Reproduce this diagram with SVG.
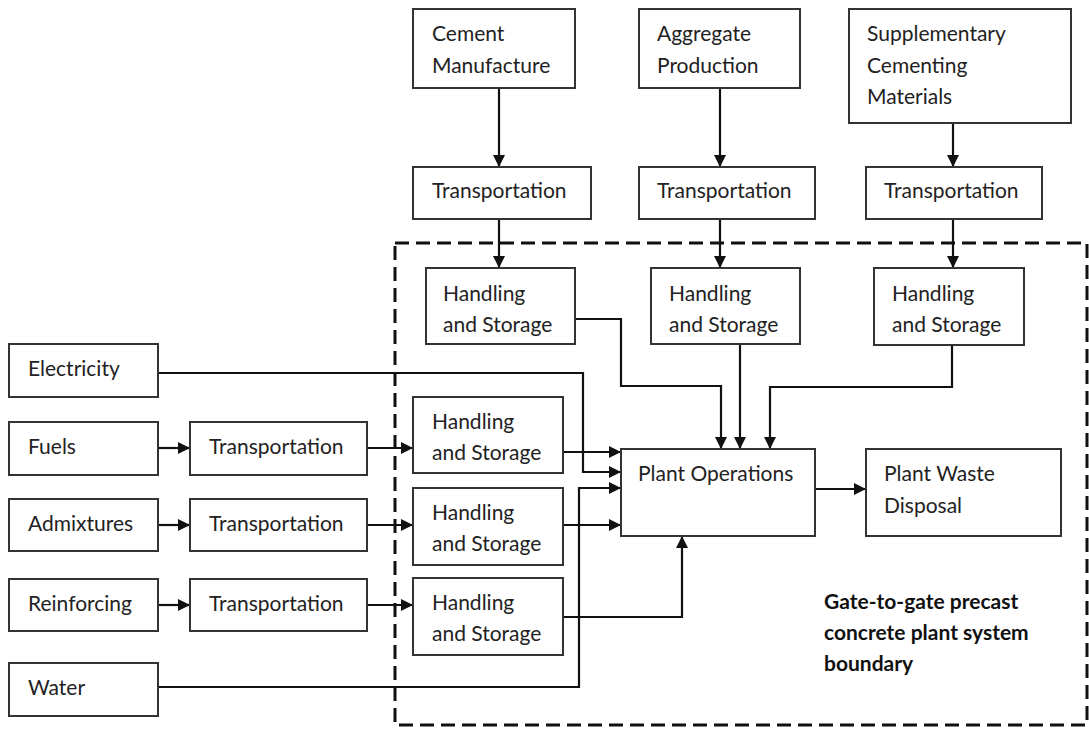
<svg xmlns="http://www.w3.org/2000/svg" width="1089" height="729" viewBox="0 0 1089 729">
<style>
.box{fill:#fff;stroke:#333;stroke-width:2}
.t{font-family:Lato,"Open Sans",sans-serif;font-size:21px;fill:#222}
.b{font-family:Lato,"Open Sans",sans-serif;font-size:21px;font-weight:bold;fill:#111}
.c{fill:none;stroke:#111;stroke-width:2.2}
.bd{fill:none;stroke:#111;stroke-width:3;stroke-dasharray:14 7}
</style>
<defs>
<marker id="ah" viewBox="0 0 10 10" refX="10" refY="5" markerWidth="12" markerHeight="12" markerUnits="userSpaceOnUse" orient="auto">
<path d="M0,0 L10,5 L0,10 Z" fill="#111"/>
</marker>
</defs>
<rect width="1089" height="729" fill="#fff"/>
<g id="boundary">
<path class="bd" d="M395,243 H1087 V725 H395 Z"/>
</g>
<g id="connectors">
<path class="c" d="M499,88 V167" marker-end="url(#ah)"/>
<path class="c" d="M720,88 V167" marker-end="url(#ah)"/>
<path class="c" d="M953,123 V167" marker-end="url(#ah)"/>
<path class="c" d="M499,219 V268" marker-end="url(#ah)"/>
<path class="c" d="M720,219 V268" marker-end="url(#ah)"/>
<path class="c" d="M953,219 V268" marker-end="url(#ah)"/>
<path class="c" d="M575,319 H621 V386 H721 V449" marker-end="url(#ah)"/>
<path class="c" d="M740,344 V449" marker-end="url(#ah)"/>
<path class="c" d="M952,345 V387 H770 V449" marker-end="url(#ah)"/>
<path class="c" d="M158,373 H583 V472 H621" marker-end="url(#ah)"/>
<path class="c" d="M158,687 H579 V488 H621" marker-end="url(#ah)"/>
<path class="c" d="M563,452 H621" marker-end="url(#ah)"/>
<path class="c" d="M563,525 H621" marker-end="url(#ah)"/>
<path class="c" d="M563,617 H682 V536" marker-end="url(#ah)"/>
<path class="c" d="M158,448 H190" marker-end="url(#ah)"/>
<path class="c" d="M158,525 H190" marker-end="url(#ah)"/>
<path class="c" d="M158,605 H190" marker-end="url(#ah)"/>
<path class="c" d="M367,448 H413" marker-end="url(#ah)"/>
<path class="c" d="M367,525 H413" marker-end="url(#ah)"/>
<path class="c" d="M367,605 H413" marker-end="url(#ah)"/>
<path class="c" d="M815,489 H866" marker-end="url(#ah)"/>
</g>
<g id="cement">
<rect class="box" x="413" y="9" width="162" height="79"/>
<text class="t" x="432" y="41">Cement</text>
<text class="t" x="432" y="73">Manufacture</text>
</g>
<g id="aggregate">
<rect class="box" x="639" y="9" width="161" height="79"/>
<text class="t" x="657" y="41">Aggregate</text>
<text class="t" x="657" y="73">Production</text>
</g>
<g id="scm">
<rect class="box" x="849" y="9" width="222" height="114"/>
<text class="t" x="867" y="41">Supplementary</text>
<text class="t" x="867" y="73">Cementing</text>
<text class="t" x="867" y="104">Materials</text>
</g>
<g id="trans1">
<rect class="box" x="413" y="167" width="178" height="52"/>
<text class="t" x="432" y="198">Transportation</text>
</g>
<g id="trans2">
<rect class="box" x="639" y="167" width="176" height="52"/>
<text class="t" x="657" y="198">Transportation</text>
</g>
<g id="trans3">
<rect class="box" x="866" y="167" width="176" height="52"/>
<text class="t" x="884" y="198">Transportation</text>
</g>
<g id="hs1">
<rect class="box" x="426" y="268" width="149" height="76"/>
<text class="t" x="443" y="301">Handling</text>
<text class="t" x="443" y="332">and Storage</text>
</g>
<g id="hs2">
<rect class="box" x="651" y="268" width="149" height="76"/>
<text class="t" x="669" y="301">Handling</text>
<text class="t" x="669" y="332">and Storage</text>
</g>
<g id="hs3">
<rect class="box" x="874" y="268" width="150" height="77"/>
<text class="t" x="892" y="301">Handling</text>
<text class="t" x="892" y="332">and Storage</text>
</g>
<g id="electricity">
<rect class="box" x="9" y="344" width="149" height="53"/>
<text class="t" x="28" y="376">Electricity</text>
</g>
<g id="fuels">
<rect class="box" x="9" y="422" width="149" height="53"/>
<text class="t" x="28" y="454">Fuels</text>
</g>
<g id="trans-fuels">
<rect class="box" x="190" y="422" width="177" height="53"/>
<text class="t" x="209" y="454">Transportation</text>
</g>
<g id="admixtures">
<rect class="box" x="9" y="499" width="149" height="52"/>
<text class="t" x="28" y="531">Admixtures</text>
</g>
<g id="trans-admix">
<rect class="box" x="190" y="499" width="177" height="52"/>
<text class="t" x="209" y="531">Transportation</text>
</g>
<g id="reinforcing">
<rect class="box" x="9" y="579" width="149" height="52"/>
<text class="t" x="28" y="611">Reinforcing</text>
</g>
<g id="trans-reinf">
<rect class="box" x="190" y="579" width="177" height="52"/>
<text class="t" x="209" y="611">Transportation</text>
</g>
<g id="water">
<rect class="box" x="9" y="663" width="149" height="53"/>
<text class="t" x="28" y="695">Water</text>
</g>
<g id="hs4">
<rect class="box" x="413" y="397" width="150" height="76"/>
<text class="t" x="432" y="429">Handling</text>
<text class="t" x="432" y="460">and Storage</text>
</g>
<g id="hs5">
<rect class="box" x="413" y="488" width="150" height="77"/>
<text class="t" x="432" y="520">Handling</text>
<text class="t" x="432" y="551">and Storage</text>
</g>
<g id="hs6">
<rect class="box" x="413" y="578" width="150" height="77"/>
<text class="t" x="432" y="610">Handling</text>
<text class="t" x="432" y="641">and Storage</text>
</g>
<g id="plant-ops">
<rect class="box" x="621" y="449" width="194" height="87"/>
<text class="t" x="638" y="481">Plant Operations</text>
</g>
<g id="waste">
<rect class="box" x="866" y="449" width="195" height="87"/>
<text class="t" x="884" y="481">Plant Waste</text>
<text class="t" x="884" y="513">Disposal</text>
</g>
<g id="boundary-label">
<text class="b" x="824" y="609">Gate-to-gate precast</text>
<text class="b" x="824" y="640">concrete plant system</text>
<text class="b" x="824" y="671">boundary</text>
</g>
</svg>
